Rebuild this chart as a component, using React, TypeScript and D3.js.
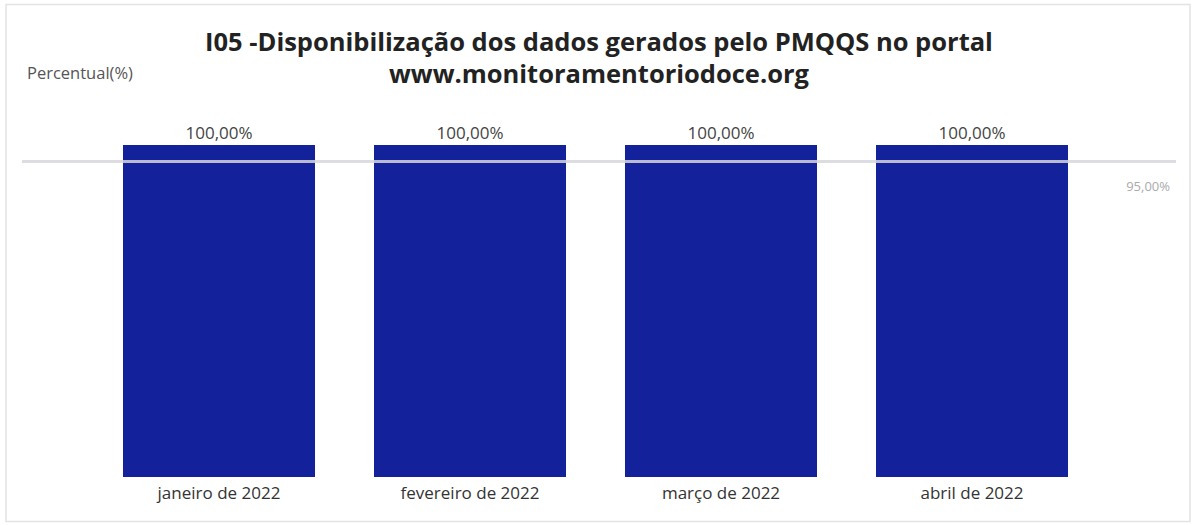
import { useEffect, useRef } from 'react';
import * as d3 from 'd3';

const months = ['janeiro de 2022', 'fevereiro de 2022', 'março de 2022', 'abril de 2022'];
const percentValues = [100, 100, 100, 100];
const targetValue = 95;
const titleLines = ['I05 -Disponibilização dos dados gerados pelo PMQQS no portal', 'www.monitoramentoriodoce.org'];

const fmt = (v: number) => v.toFixed(2).replace('.', ',') + '%';

const App = () => {
  const ref = useRef<SVGSVGElement | null>(null);

  useEffect(() => {
    if (!ref.current) return;
    const svg = d3.select(ref.current);
    svg.selectAll('*').remove();

    const font = '"Open Sans", "Noto Sans", sans-serif';

    // panel border
    svg.append('rect')
      .attr('x', 6).attr('y', 4.5)
      .attr('width', 1184).attr('height', 517)
      .attr('fill', '#fff')
      .attr('stroke', '#e3e3e3')
      .attr('stroke-width', 1.5);

    const x = d3.scaleBand<string>()
      .domain(months)
      .range([93.5, 1097.5])
      .paddingInner(0.235)
      .paddingOuter(0.1175);

    const y = d3.scaleLinear()
      .domain([0, 100])
      .range([477, 145]);

    // title
    const title = svg.append('text')
      .attr('text-anchor', 'middle')
      .style('font-family', font)
      .style('font-weight', 'bold')
      .style('font-size', '25.5px')
      .attr('fill', '#222');
    titleLines.forEach((t, i) => {
      title.append('tspan').attr('x', 599).attr('y', 51 + i * 32).text(t);
    });

    svg.append('text')
      .attr('x', 27).attr('y', 79)
      .style('font-family', font)
      .style('font-size', '16.5px')
      .attr('fill', '#555')
      .text('Percentual(%)');

    // bars
    svg.selectAll('.bar')
      .data(percentValues)
      .enter().append('rect')
      .attr('class', 'bar')
      .attr('x', (_, i) => x(months[i])!)
      .attr('y', d => y(d))
      .attr('width', x.bandwidth())
      .attr('height', d => y(0) - y(d))
      .attr('fill', '#13229b');

    // target line
    svg.append('line')
      .attr('x1', 22).attr('x2', 1176)
      .attr('y1', y(targetValue)).attr('y2', y(targetValue))
      .attr('stroke', '#d6d6dc')
      .attr('stroke-opacity', 0.85)
      .attr('stroke-width', 3);

    svg.append('text')
      .attr('x', 1170).attr('y', y(targetValue) + 29)
      .attr('text-anchor', 'end')
      .style('font-family', font)
      .style('font-size', '13px')
      .attr('fill', '#aaa')
      .text(fmt(targetValue));

    // value labels
    svg.selectAll('.val')
      .data(percentValues)
      .enter().append('text')
      .attr('class', 'val')
      .attr('x', (_, i) => x(months[i])! + x.bandwidth() / 2)
      .attr('y', d => y(d) - 6)
      .attr('text-anchor', 'middle')
      .style('font-family', font)
      .style('font-size', '17px')
      .attr('fill', '#444')
      .text(d => fmt(d));

    // category labels
    svg.append('g')
      .attr('transform', `translate(0,${y(0)})`)
      .call(d3.axisBottom(x).tickSize(0).tickPadding(10))
      .call(g => g.select('.domain').remove())
      .selectAll('text')
      .style('font-family', font)
      .style('font-size', '17px')
      .attr('fill', '#333');
  }, []);

  return (
    <svg ref={ref} width={1195} height={525}
      style={{ position: 'absolute', left: 0, top: 0, background: '#fff' }} />
  );
};

export default App;
